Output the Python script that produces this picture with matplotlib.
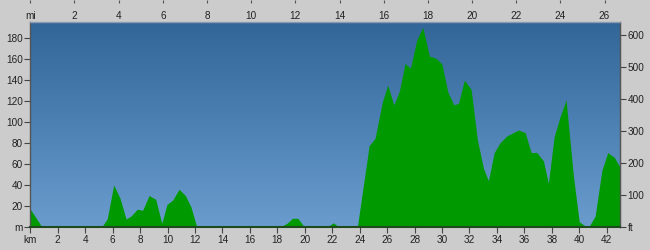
import numpy as np
import matplotlib
matplotlib.use("Agg")
from matplotlib import pyplot as plt
from matplotlib.colors import LinearSegmentedColormap

plt.rcParams['font.family'] = ['Liberation Sans', 'DejaVu Sans']
plt.rcParams['font.size'] = 7.2

# distance along route (km) and elevation (m), read from the profile
km = [0, 0.85, 5.2, 5.6, 6.08, 6.54, 6.98, 7.34, 7.8, 8.19, 8.65, 9.14, 9.58,
      9.96, 10.38, 10.84, 11.3, 11.7, 12.13, 18.2, 18.7, 19.1, 19.5, 19.97,
      20.4, 20.75, 21.1, 21.65, 22.08, 22.5, 23.83, 24.69, 25.12, 25.66,
      26.05, 26.49, 26.9, 27.31, 27.7, 28.16, 28.6, 29.08, 29.55, 29.99,
      30.42, 30.86, 31.2, 31.63, 32.12, 32.58, 33.02, 33.38, 33.8, 34.23,
      34.72, 35.2, 35.57, 36.06, 36.5, 36.9, 37.39, 37.75, 38.17, 38.6,
      39.04, 39.58, 40.0, 40.43, 40.74, 41.16, 41.65, 42.08, 42.56, 42.97]
elev = [17, 0, 0, 7.6, 40, 27.4, 7.6, 10.5, 17, 16, 30, 26.4, 3.5,
        21.6, 25.7, 36, 30, 19.4, 0, 0, 3.5, 8.3, 8.3, 0,
        0, 1, 0, 0, 4, 0, 0, 77.5, 84.6, 119.5,
        135.4, 116.4, 130, 156, 151.4, 178.3, 190.4, 163, 161, 155.5,
        129, 116.4, 118, 140, 131.3, 83, 56, 44, 70.9, 80.4,
        86.8, 90, 92.5, 90, 70.9, 71.2, 63, 41.7, 86, 105,
        121, 48, 5, 1, 1, 10.5, 54, 71, 66.4, 57]

km_ticks = list(range(0, 43, 2))
m_ticks = list(range(0, 181, 20))
mi_ticks = list(range(0, 27, 2))
ft_ticks = list(range(0, 601, 100))

KM_PER_MI = 1.609344
FT_PER_M = 3.28084

fig = plt.figure(figsize=(6.5, 2.5), dpi=100, facecolor='#cccccc')
ax = fig.add_axes([30.3 / 650, 23 / 250, (620 - 30.3) / 650, 205 / 250])

# blue gradient sky
sky = LinearSegmentedColormap.from_list('sky', ['#6a9dce', '#326598'])
grad = np.linspace(0, 1, 256).reshape(-1, 1)
ax.imshow(grad, cmap=sky, origin='lower', extent=[0, 1, 0, 1],
          transform=ax.transAxes, aspect='auto', zorder=0)

ax.fill_between(km, elev, 0, color='#009900', lw=0, zorder=2)

ax.set_xlim(0, 42.97)
ax.set_ylim(0, 195.5)

ax.set_xticks(km_ticks)
ax.set_xticklabels(['km'] + [str(v) for v in km_ticks[1:]])
ax.set_yticks(m_ticks)
ax.set_yticklabels(['m'] + [str(v) for v in m_ticks[1:]])

ax.tick_params(axis='both', direction='out', length=4.3, width=0.8,
               color='#444444', labelcolor='#222222')
ax.tick_params(axis='x', pad=1.5)
ax.tick_params(axis='y', pad=1)

for side in ['left', 'right']:
    ax.spines[side].set_color('#555555')
    ax.spines[side].set_linewidth(1)
ax.spines['bottom'].set_color('#1e4a1e')
ax.spines['bottom'].set_linewidth(1.5)
ax.spines['top'].set_color('#8a9bb0')
ax.spines['top'].set_linewidth(1)

# feet on the right
ax2 = ax.secondary_yaxis('right', functions=(lambda m: m * FT_PER_M,
                                               lambda f: f / FT_PER_M))
ax2.set_yticks(ft_ticks)
ax2.set_yticklabels(['ft'] + [str(v) for v in ft_ticks[1:]])
ax2.tick_params(direction='out', length=4.3, width=0.8, pad=1,
                color='#444444', labelcolor='#222222')
ax2.spines['right'].set_color('#555555')

# miles along the top edge of the figure
ax3 = ax.secondary_xaxis(1 + 22 / 205, functions=(lambda k: k / KM_PER_MI,
                                                  lambda mi: mi * KM_PER_MI))
ax3.set_xticks(mi_ticks)
ax3.set_xticklabels(['mi'] + [str(v) for v in mi_ticks[1:]])
ax3.tick_params(direction='in', length=2, width=0.8, pad=-14.8,
                color='#555555', labelcolor='#222222')
ax3.spines['top'].set_visible(False)

fig.savefig('out.png', dpi=100, facecolor=fig.get_facecolor())
